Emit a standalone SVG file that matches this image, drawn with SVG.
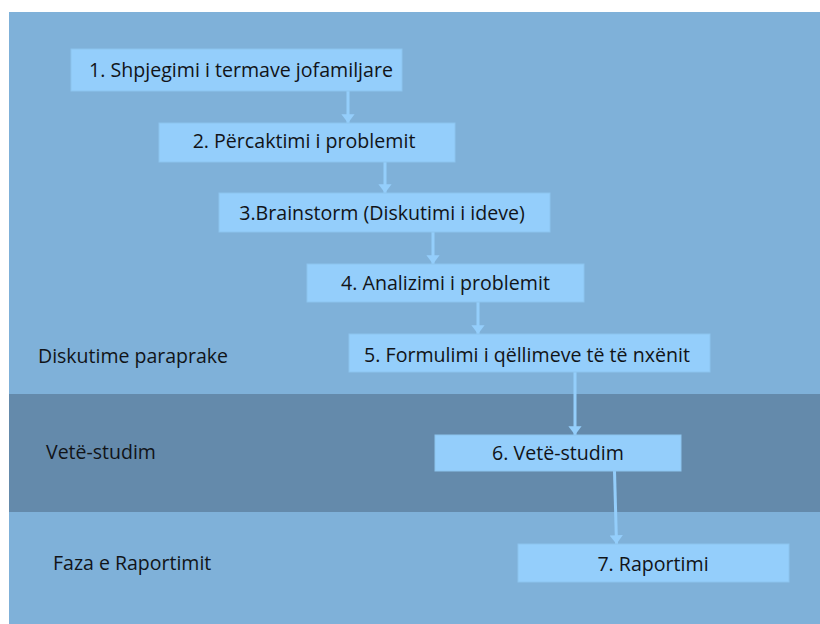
<svg xmlns="http://www.w3.org/2000/svg" width="820" height="624" viewBox="0 0 820 624">
<defs>
<style>
.band1{fill:#7fb1d9}
.band2{fill:#648aab}
.box{fill:#94cefb;stroke:#8cc4ee;stroke-width:1}
.t{font-family:"Open Sans","Noto Sans",sans-serif;font-size:19.6px;fill:#111418;text-anchor:middle}
.lab{font-family:"Open Sans","Noto Sans",sans-serif;font-size:19.5px;fill:#111418}
.c{stroke:#94cefb;stroke-width:3;fill:none;marker-end:url(#ah)}
</style>
<marker id="ah" markerWidth="3" markerHeight="4.4" refX="2.9" refY="2.2" orient="auto" markerUnits="strokeWidth">
<path d="M0,0 L2.9,2.2 L0,4.4 Z" fill="#94cefb"/>
</marker>
</defs>
<rect width="820" height="624" fill="#ffffff"/>
<g id="bands">
<rect class="band1" x="9" y="12" width="811" height="382"/>
<rect class="band2" x="9" y="394" width="811" height="118"/>
<rect class="band1" x="9" y="512" width="811" height="112"/>
</g>
<g id="lane-labels">
<text class="lab" x="38" y="363">Diskutime paraprake</text>
<text class="lab" x="46" y="459">Vetë-studim</text>
<text class="lab" x="53" y="570">Faza e Raportimit</text>
</g>
<g id="connectors">
<line class="c" x1="348" y1="91" x2="348" y2="123"/>
<line class="c" x1="385" y1="162" x2="385" y2="193"/>
<line class="c" x1="433" y1="232" x2="433" y2="264"/>
<line class="c" x1="478" y1="302" x2="478" y2="334"/>
<line class="c" x1="575" y1="372" x2="575" y2="435"/>
<line class="c" x1="614.5" y1="471" x2="616.5" y2="544"/>
</g>
<g id="n1"><rect class="box" x="71" y="49" width="331" height="42"/><text class="t" x="241" y="77">1. Shpjegimi i termave jofamiljare</text></g>
<g id="n2"><rect class="box" x="159" y="123" width="296" height="39"/><text class="t" x="304" y="148">2. Përcaktimi i problemit</text></g>
<g id="n3"><rect class="box" x="219" y="193" width="331" height="39"/><text class="t" x="382" y="220">3.Brainstorm (Diskutimi i ideve)</text></g>
<g id="n4"><rect class="box" x="307" y="264" width="277" height="38"/><text class="t" x="445.5" y="290">4. Analizimi i problemit</text></g>
<g id="n5"><rect class="box" x="349" y="334" width="361" height="38"/><text class="t" x="527" y="362">5. Formulimi i qëllimeve të të nxënit</text></g>
<g id="n6"><rect class="box" x="435" y="435" width="246" height="36"/><text class="t" x="558" y="460">6. Vetë-studim</text></g>
<g id="n7"><rect class="box" x="518" y="544" width="271" height="38"/><text class="t" x="653" y="571">7. Raportimi</text></g>
</svg>
